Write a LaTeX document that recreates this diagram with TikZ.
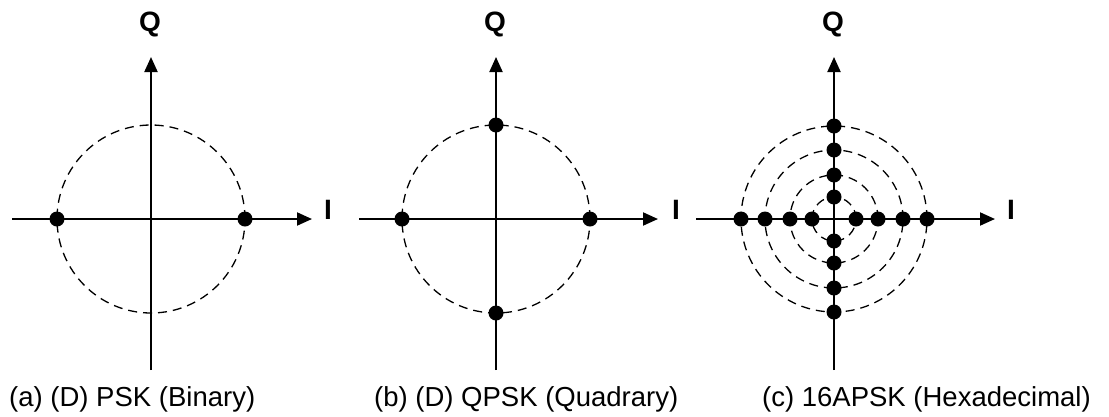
\documentclass[tikz,border=0pt]{standalone}
\usepackage{fontspec}
\setmainfont{Liberation Sans}
\usetikzlibrary{arrows.meta,calc}
\begin{document}
\begin{tikzpicture}[x=1pt,y=-1pt,
  axis/.style={line width=2pt,-{Triangle[length=15pt,width=13pt]}},
  ring/.style={line width=1.3pt,dash pattern=on 9pt off 6pt},
  pt/.style={circle,fill=black,inner sep=0pt,minimum size=15pt},
  lab/.style={font=\fontsize{28}{32}\selectfont\bfseries,inner sep=0pt,anchor=base},
  captext/.style={font=\fontsize{27.5}{31}\selectfont,anchor=base west,inner sep=0pt}]
\useasboundingbox (0,0) rectangle (1109,416);
% ---------- (a)
\coordinate (ac) at (151,219);
\coordinate (aL) at (12,219);
\coordinate (aR) at (312,219);
\coordinate (aT) at (151,57);
\coordinate (aB) at (151,370);
\draw[ring] (ac) circle[radius=94pt];
\draw[axis] (aL) -- (aR);
\draw[axis] (aB) -- (aT);
\node[pt] (a1) at (57,219) {};
\node[pt] (a2) at (245,219) {};
\node[lab] (aQ) at (150,31) {Q};
\node[lab] (aI) at (328,219) {I};
\node[captext] (acap) at (9,406) {(a) (D) PSK (Binary)};
% ---------- (b)
\coordinate (bc) at (496,219);
\coordinate (bL) at (359,219);
\coordinate (bR) at (658,219);
\coordinate (bT) at (496,57);
\coordinate (bB) at (496,370);
\draw[ring] (bc) circle[radius=94pt];
\draw[axis] (bL) -- (bR);
\draw[axis] (bB) -- (bT);
\node[pt] (b1) at (402,219) {};
\node[pt] (b2) at (590,219) {};
\node[pt] (b3) at (496,125) {};
\node[pt] (b4) at (496,313) {};
\node[lab] (bQ) at (495,31) {Q};
\node[lab] (bI) at (676,219) {I};
\node[captext] (bcap) at (374,406) {(b) (D) QPSK (Quadrary)};
% ---------- (c)
\coordinate (cc) at (834,219);
\coordinate (cL) at (696,219);
\coordinate (cR) at (995,219);
\coordinate (cT) at (834,57);
\coordinate (cB) at (834,370);
\foreach \r in {93,69,44,22}{
  \draw[ring] (cc) circle[radius=\r pt];
}
\draw[axis] (cL) -- (cR);
\draw[axis] (cB) -- (cT);
\foreach \r [count=\i] in {93,69,44,22}{
  \node[pt] (cE\i) at ($(cc)+(\r,0)$) {};
  \node[pt] (cW\i) at ($(cc)+(-\r,0)$) {};
  \node[pt] (cN\i) at ($(cc)+(0,-\r)$) {};
  \node[pt] (cS\i) at ($(cc)+(0,\r)$) {};
}
\node[lab] (cQ) at (833,31) {Q};
\node[lab] (cI) at (1011,219) {I};
\node[captext] (ccap) at (762,406) {(c) 16APSK (Hexadecimal)};
\end{tikzpicture}
\end{document}
